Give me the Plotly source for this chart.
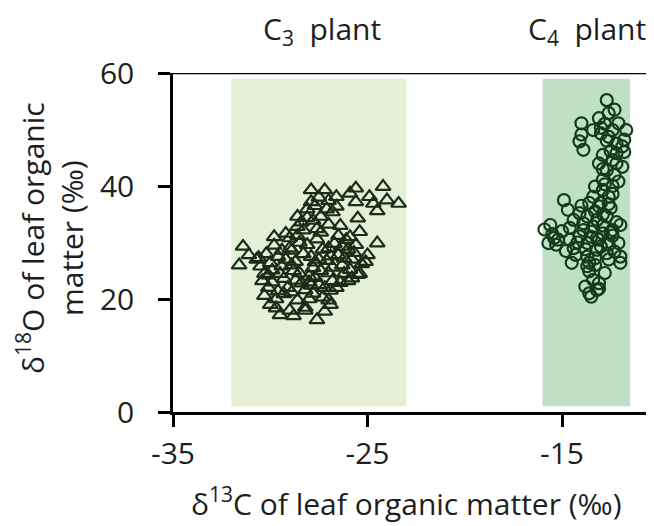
import plotly.graph_objects as go

# C3 plant points (delta13C, delta18O)
c3_x = [-27.9, -27.2, -27.5, -26.6, -27.0, -25.9, -25.6, -24.9, -24.2, -24.0, -23.4, -24.7, -25.6, -27.9,
        -27.1, -26.8, -28.1, -27.4, -28.6, -28.4, -27.8, -27.0, -28.6, -27.6, -25.5, -25.4, -24.5, -25.0,
        -25.1, -25.4, -25.8, -31.4, -31.6, -31.1, -30.7, -30.5, -30.3, -30.2, -30.3, -30.0, -29.5, -29.0,
        -28.2, -27.6, -27.2, -27.3, -26.9, -28.6, -29.7, -27.8, -28.8, -29.8, -29.6, -29.4, -29.3, -29.1,
        -29.9, -29.0, -28.9, -28.7, -28.5, -28.4, -28.2, -28.6, -28.1, -27.9, -27.8, -27.7, -27.5, -27.6,
        -27.3, -27.1, -27.0, -26.8, -26.7, -26.5, -26.3, -26.2, -26.0, -25.8, -25.9, -26.5, -26.1, -25.6,
        -27.4, -28.3, -29.2, -29.8, -30.0, -29.5, -30.1, -28.9, -28.0, -26.6, -26.0, -25.5, -25.3, -26.4,
        -29.2, -28.8, -28.0, -27.2, -26.9, -28.5, -29.6, -30.4, -29.0, -28.3, -27.7, -27.0, -26.3, -25.7,
        -28.0, -27.4, -26.8, -29.3, -28.7, -27.9, -27.5, -26.9, -26.4, -28.9, -29.4, -30.1, -28.2, -27.0,
        -26.2, -25.9, -24.5, -27.7, -28.1, -26.6, -29.9, -30.6, -29.7]
c3_y = [39.3, 39.3, 38.0, 38.1, 37.4, 38.7, 39.6, 38.1, 39.9, 37.5, 36.9, 36.9, 37.2, 37.2,
        35.9, 35.4, 35.9, 34.6, 34.6, 33.6, 33.9, 33.2, 32.8, 32.4, 34.3, 31.9, 29.9, 27.8,
        26.6, 24.5, 23.7, 29.3, 26.0, 27.8, 27.0, 25.8, 24.5, 28.0, 20.6, 19.0, 17.2, 18.0,
        18.5, 16.3, 17.8, 20.3, 21.5, 19.8, 20.0, 21.0, 17.0, 29.5, 27.5, 25.8, 23.6, 22.0,
        23.0, 30.8, 28.6, 26.6, 24.6, 22.8, 21.6, 31.2, 29.6, 27.5, 25.5, 23.8, 22.5, 30.6,
        28.8, 26.8, 24.6, 23.2, 29.8, 27.8, 26.0, 24.5, 28.8, 27.0, 25.2, 31.2, 30.5, 29.6,
        31.8, 32.2, 31.6, 31.0, 26.4, 24.5, 22.0, 21.2, 20.0, 22.0, 23.2, 24.3, 26.2, 33.0,
        27.0, 25.0, 23.0, 22.0, 19.0, 30.0, 21.4, 23.2, 29.0, 28.0, 26.5, 29.0, 29.3, 28.2,
        24.0, 25.0, 25.6, 20.9, 23.3, 22.4, 27.0, 27.6, 22.9, 26.0, 28.6, 24.2, 18.0, 19.8,
        27.2, 31.0, 35.6, 36.5, 34.4, 36.4, 25.1, 27.3, 18.4]

# C4 plant points (delta13C, delta18O)
c4_x = [-12.7, -12.6, -13.1, -13.0, -12.4, -12.1, -11.7, -11.9, -12.2, -12.6, -12.9, -12.4, -11.9, -13.1,
        -12.7, -12.9, -13.3, -13.4, -12.9, -12.6, -13.6, -13.1, -12.5, -14.0, -13.4, -14.0, -14.1, -13.9,
        -14.9, -14.7, -14.1, -13.7, -13.2, -12.7, -12.0, -12.4, -12.9, -13.4, -13.9, -14.4, -15.6, -15.7,
        -15.3, -14.6, -14.1, -13.7, -13.1, -12.6, -12.1, -12.3, -12.7, -13.2, -13.7, -14.3, -14.5, -13.6,
        -12.0, -13.6, -13.4, -13.8, -13.2, -13.6, -13.1, -13.5, -12.3, -12.8, -12.2, -11.8, -12.5, -12.3,
        -12.8, -13.0, -12.6, -12.4, -12.2, -12.9, -13.3, -15.5, -15.0, -14.8, -14.2, -13.9, -13.5, -12.9,
        -12.5, -13.2, -13.8, -14.6, -15.2, -14.0, -13.3, -12.6, -12.2, -13.0, -13.7, -12.8, -13.3, -12.4,
        -12.9, -13.0, -14.4, -15.9, -15.4, -13.1, -12.4, -11.8, -12.7, -13.5, -12.1, -12.0]
c4_y = [55.2, 52.9, 52.0, 49.3, 49.9, 51.1, 49.9, 47.0, 47.5, 48.7, 45.5, 44.6, 43.4, 44.0,
        42.8, 41.1, 39.9, 38.1, 39.3, 38.1, 37.0, 36.4, 36.1, 51.1, 49.9, 49.1, 47.9, 46.4,
        37.5, 35.8, 35.2, 34.6, 34.0, 34.6, 33.1, 32.2, 31.6, 32.8, 33.4, 34.0, 33.1, 29.9,
        29.6, 30.5, 31.1, 29.9, 30.5, 29.6, 29.9, 28.4, 28.1, 28.7, 27.5, 27.8, 26.4, 26.4,
        26.4, 24.9, 23.4, 22.2, 21.6, 21.0, 22.8, 20.4, 53.5, 51.0, 45.8, 48.2, 46.2, 42.0,
        40.3, 37.0, 36.8, 40.0, 44.0, 43.0, 35.5, 31.5, 32.0, 28.5, 30.0, 32.2, 31.0, 33.0,
        31.8, 30.8, 28.8, 32.6, 30.5, 36.5, 27.2, 27.0, 33.6, 29.3, 25.8, 24.6, 26.0, 38.6,
        35.0, 50.3, 29.0, 32.3, 30.8, 21.8, 31.2, 46.0, 48.0, 31.9, 40.8, 27.5]

c3_band = [-32, -23]
c4_band = [-16, -11.5]
band_y = [1, 59]

x_ticks = [-35, -25, -15]
y_ticks = [0, 20, 40, 60]

FONT = "Open Sans"
FS = 30
ink = "#1e1e1e"

# pixel geometry of the plot area on the page (page body has an 8px margin)
L, T, R, B = 173, 73, 654, 412
W, H = R - L, B - T


def px(x):
    return (x - L) / W


def py(y):
    return (B - y) / H


fig = go.Figure()
fig.add_trace(go.Scatter(
    x=c3_x, y=c3_y, mode="markers", name="C3",
    marker=dict(symbol="triangle-up-open", size=13, color="#1d2b1a",
                line=dict(width=2.2, color="#1d2b1a")),
))
fig.add_trace(go.Scatter(
    x=c4_x, y=c4_y, mode="markers", name="C4",
    marker=dict(symbol="circle-open", size=12, color="#143a1c",
                line=dict(width=2.2, color="#143a1c")),
))

fig.add_shape(type="rect", xref="x", yref="y", x0=c3_band[0], x1=c3_band[1],
              y0=band_y[0], y1=band_y[1], fillcolor="#e4efd6", line=dict(width=0), layer="below")
fig.add_shape(type="rect", xref="x", yref="y", x0=c4_band[0], x1=c4_band[1],
              y0=band_y[0], y1=band_y[1], fillcolor="#bfe0c7", line=dict(width=0), layer="below")
# top frame line
fig.add_shape(type="line", xref="paper", yref="y", x0=0, x1=1, y0=60, y1=60,
              line=dict(color="black", width=2.5))

tf = dict(family=FONT, size=FS, color=ink)
fig.add_annotation(text="C<sub>3</sub>  plant", xref="paper", yref="paper",
                   x=px(322), y=py(30), showarrow=False,
                   xanchor="center", yanchor="middle", font=tf)
fig.add_annotation(text="C<sub>4</sub>  plant", xref="paper", yref="paper",
                   x=px(587), y=py(30), showarrow=False,
                   xanchor="center", yanchor="middle", font=tf)
fig.add_annotation(text="δ<sup>13</sup>C of leaf organic matter (‰)", xref="paper", yref="paper",
                   x=px(406), y=py(526), showarrow=False,
                   xanchor="center", yanchor="bottom", font=tf)
fig.add_annotation(text="δ<sup>18</sup>O of leaf organic<br>matter (‰)", xref="paper", yref="paper",
                   x=px(50), y=py(238), showarrow=False, textangle=-90,
                   xanchor="center", yanchor="middle", font=tf)

fig.update_layout(
    width=654 - 8, height=526 - 8,
    margin=dict(l=L - 8, r=0, t=T - 8, b=526 - B),
    paper_bgcolor="white", plot_bgcolor="white",
    showlegend=False,
    font=tf,
    xaxis=dict(range=[-35, -35 + W / 19.45], tickvals=x_ticks, ticktext=[str(v) for v in x_ticks],
               showgrid=False, zeroline=False, showline=True, linecolor="black", linewidth=2.5,
               ticks="outside", ticklen=12, tickwidth=2.5, tickcolor="black",
               ticklabelstandoff=1, tickfont=tf),
    yaxis=dict(range=[0, 60], tickvals=y_ticks, showgrid=False, zeroline=False,
               showline=True, linecolor="black", linewidth=2.5,
               ticks="outside", ticklen=12, tickwidth=2.5, tickcolor="black",
               ticklabelstandoff=18, tickfont=tf),
)

fig.write_html("out.html")
